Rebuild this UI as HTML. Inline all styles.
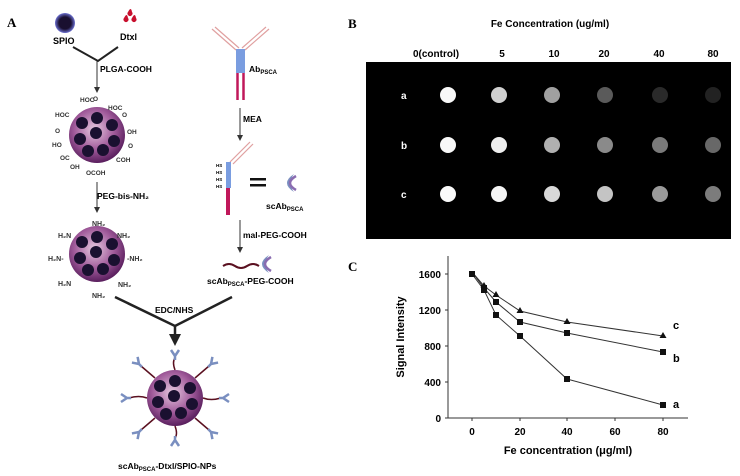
<!DOCTYPE html>
<html><head><meta charset="utf-8"><style>
html,body{margin:0;padding:0;background:#fff}
svg{display:block}
text{font-family:"Liberation Sans",sans-serif;font-weight:bold}
</style></head><body>
<svg width="740" height="476" viewBox="0 0 740 476" xmlns="http://www.w3.org/2000/svg">
<defs>
<radialGradient id="np" cx="45%" cy="40%" r="60%"><stop offset="0" stop-color="#e6c8e0"/><stop offset="0.6" stop-color="#a05a9a"/><stop offset="1" stop-color="#5a1f5e"/></radialGradient>
<radialGradient id="sp" cx="50%" cy="50%" r="50%"><stop offset="0.6" stop-color="#1a1030"/><stop offset="1" stop-color="#6b6fd0"/></radialGradient>
<marker id="ar" markerWidth="6" markerHeight="6" refX="3" refY="3" orient="auto"><path d="M0,0 L6,3 L0,6z" fill="#333"/></marker>
<g id="part">
<circle r="28" fill="url(#np)"/>
<g fill="#1a1030"><circle cx="-15" cy="-12" r="6"/><circle cx="0" cy="-17" r="6"/><circle cx="15" cy="-10" r="6"/><circle cx="-1" cy="-2" r="6"/><circle cx="-17" cy="4" r="6"/><circle cx="17" cy="6" r="6"/><circle cx="-9" cy="16" r="6"/><circle cx="6" cy="15" r="6"/></g>
</g>
<g id="scab"><path d="M4,-9 Q-10,0 4,9 Q-3,0 4,-9z" fill="#7a8fc0"/><path d="M6,-7 Q-6,0 6,7" stroke="#8a6cb0" stroke-width="2.5" fill="none"/></g>
<g id="tip"><path d="M0,0 l-4,-6 M0,0 l4,-6 M0,0 v4" stroke="#7a8fc0" stroke-width="2.5" fill="none"/></g>
</defs>

<!-- Panel A -->
<text x="7" y="27" font-size="13" style="font-family:'Liberation Serif',serif">A</text>
<circle cx="65" cy="23" r="10" fill="url(#sp)"/>
<text x="53" y="44" font-size="9">SPIO</text>
<g fill="#c8102e"><path d="M124,18 q3,-6 4,0 a2.5,2.5 0 1 1 -4,0z"/><path d="M128,12 q3,-6 4,0 a2.5,2.5 0 1 1 -4,0z"/><path d="M132,18 q3,-6 4,0 a2.5,2.5 0 1 1 -4,0z"/></g>
<text x="120" y="40" font-size="9">Dtxl</text>
<polyline points="73,47 98,61 118,47" fill="none" stroke="#222" stroke-width="2"/>
<line x1="97" y1="61" x2="97" y2="90" stroke="#333" stroke-width="1" marker-end="url(#ar)"/>
<text x="100" y="72" font-size="8.5">PLGA-COOH</text>
<use href="#part" x="97" y="135"/>
<g font-size="6.5" fill="#333" style="font-weight:normal">
<text x="80" y="102">HOC</text><text x="93" y="101">O</text><text x="55" y="117">HOC</text><text x="108" y="110">HOC</text><text x="122" y="117">O</text>
<text x="52" y="147">HO</text><text x="55" y="133">O</text><text x="127" y="134">OH</text><text x="128" y="148">O</text>
<text x="60" y="160">OC</text><text x="70" y="169">OH</text><text x="116" y="162">COH</text><text x="86" y="175">OCOH</text>
</g>
<line x1="97" y1="182" x2="97" y2="210" stroke="#333" marker-end="url(#ar)"/>
<text x="97" y="199" font-size="8.5">PEG-bis-NH₂</text>
<use href="#part" x="97" y="254"/>
<g font-size="7" style="font-weight:normal" fill="#333">
<text x="92" y="226">NH₂</text><text x="58" y="238">H₂N</text><text x="117" y="238">NH₂</text>
<text x="48" y="261">H₂N-</text><text x="127" y="261">-NH₂</text>
<text x="58" y="286">H₂N</text><text x="118" y="287">NH₂</text><text x="92" y="298">NH₂</text>
</g>
<polyline points="115,297 175,326 232,297" fill="none" stroke="#222" stroke-width="2.5"/>
<line x1="175" y1="326" x2="175" y2="336" stroke="#222" stroke-width="2.5"/>
<path d="M169,334 L181,334 L175,346z" fill="#222"/>
<text x="155" y="313" font-size="8.5">EDC/NHS</text>
<g stroke="#5a1020" stroke-width="1.5" fill="none">
<path d="M175,370 q-3,-8 0,-12"/><path d="M175,426 q3,8 0,12"/><path d="M147,398 q-8,-3 -18,0"/><path d="M203,398 q8,3 18,0"/>
<path d="M155,378 l-14,-12"/><path d="M195,378 l14,-12"/><path d="M155,418 l-14,12"/><path d="M195,418 l14,12"/>
</g>
<use href="#tip" x="175" y="356"/>
<use href="#tip" x="175" y="440" transform="rotate(180 175 440)"/>
<use href="#tip" x="127" y="398" transform="rotate(-90 127 398)"/>
<use href="#tip" x="223" y="398" transform="rotate(90 223 398)"/>
<use href="#tip" x="139" y="364" transform="rotate(-45 139 364)"/>
<use href="#tip" x="211" y="364" transform="rotate(45 211 364)"/>
<use href="#tip" x="139" y="432" transform="rotate(-135 139 432)"/>
<use href="#tip" x="211" y="432" transform="rotate(135 211 432)"/>
<use href="#part" x="175" y="398"/>
<text x="118" y="469" font-size="8.5">scAb<tspan font-size="6" dy="2">PSCA</tspan><tspan dy="-2">-Dtxl/SPIO-NPs</tspan></text>

<!-- antibody -->
<g stroke="#e0a0a0" stroke-width="1.2"><line x1="212" y1="29" x2="236" y2="50"/><line x1="215" y1="27" x2="239" y2="48"/><line x1="266" y1="27" x2="242" y2="48"/><line x1="269" y1="29" x2="245" y2="50"/></g>
<rect x="236" y="49" width="9" height="24" fill="#7a9de0"/>
<line x1="237.5" y1="73" x2="237.5" y2="100" stroke="#c0185a" stroke-width="2.5"/><line x1="243.5" y1="73" x2="243.5" y2="100" stroke="#c0185a" stroke-width="2.5"/>
<text x="249" y="72" font-size="8.5">Ab<tspan font-size="6" dy="2">PSCA</tspan></text>
<line x1="240" y1="108" x2="240" y2="138" stroke="#333" marker-end="url(#ar)"/>
<text x="243" y="122" font-size="8.5">MEA</text>
<g stroke="#e0a0a0" stroke-width="1.2"><line x1="230" y1="162" x2="250" y2="142"/><line x1="233" y1="164" x2="253" y2="144"/></g>
<rect x="226" y="162" width="5" height="26" fill="#7a9de0"/>
<rect x="226" y="188" width="4" height="27" fill="#c0185a"/>
<g font-size="4.5"><text x="216" y="167">HS</text><text x="216" y="174">HS</text><text x="216" y="181">HS</text><text x="216" y="188">HS</text></g>
<rect x="250" y="178" width="16" height="2.5" fill="#111"/><rect x="250" y="184" width="16" height="2.5" fill="#111"/>
<use href="#scab" x="290" y="183"/>
<text x="266" y="209" font-size="8.5">scAb<tspan font-size="6" dy="2">PSCA</tspan></text>
<line x1="240" y1="220" x2="240" y2="250" stroke="#333" marker-end="url(#ar)"/>
<text x="243" y="238" font-size="8.5">mal-PEG-COOH</text>
<path d="M223,266 q6,-4 12,0 t12,0 t12,0" stroke="#5a1020" stroke-width="2" fill="none"/>
<use href="#scab" x="265" y="264"/>
<text x="207" y="284" font-size="8.5">scAb<tspan font-size="6" dy="2">PSCA</tspan><tspan dy="-2">-PEG-COOH</tspan></text>

<!-- Panel B -->
<text x="348" y="28" font-size="13" style="font-family:'Liberation Serif',serif">B</text>
<text x="550" y="27" font-size="10" text-anchor="middle">Fe Concentration (ug/ml)</text>
<g font-size="10" text-anchor="middle"><text x="436" y="57">0(control)</text><text x="502" y="57">5</text><text x="554" y="57">10</text><text x="604" y="57">20</text><text x="659" y="57">40</text><text x="713" y="57">80</text></g>
<rect x="366" y="62" width="365" height="177" fill="#000"/>
<g font-size="10" fill="#fff"><text x="401" y="99">a</text><text x="401" y="149">b</text><text x="401" y="198">c</text></g>
<g>
<circle cx="448" cy="95" r="8" fill="#f8f8f8"/><circle cx="499" cy="95" r="8" fill="#d0d0d0"/><circle cx="552" cy="95" r="8" fill="#a0a0a0"/><circle cx="605" cy="95" r="8" fill="#5a5a5a"/><circle cx="660" cy="95" r="8" fill="#2a2a2a"/><circle cx="713" cy="95" r="8" fill="#222"/>
<circle cx="448" cy="145" r="8" fill="#f8f8f8"/><circle cx="499" cy="145" r="8" fill="#eeeeee"/><circle cx="552" cy="145" r="8" fill="#b0b0b0"/><circle cx="605" cy="145" r="8" fill="#8a8a8a"/><circle cx="660" cy="145" r="8" fill="#7a7a7a"/><circle cx="713" cy="145" r="8" fill="#686868"/>
<circle cx="448" cy="194" r="8" fill="#fafafa"/><circle cx="499" cy="194" r="8" fill="#f4f4f4"/><circle cx="552" cy="194" r="8" fill="#d8d8d8"/><circle cx="605" cy="194" r="8" fill="#c4c4c4"/><circle cx="660" cy="194" r="8" fill="#9a9a9a"/><circle cx="713" cy="194" r="8" fill="#7c7c7c"/>
</g>

<!-- Panel C -->
<text x="348" y="271" font-size="13" style="font-family:'Liberation Serif',serif">C</text>
<line x1="448" y1="256" x2="448" y2="418" stroke="#333"/>
<line x1="448" y1="418" x2="688" y2="418" stroke="#333"/>
<g stroke="#333">
<line x1="445" y1="418" x2="448" y2="418"/><line x1="445" y1="382" x2="448" y2="382"/><line x1="445" y1="346" x2="448" y2="346"/><line x1="445" y1="310" x2="448" y2="310"/><line x1="445" y1="274" x2="448" y2="274"/>
<line x1="472" y1="418" x2="472" y2="421"/><line x1="520" y1="418" x2="520" y2="421"/><line x1="567" y1="418" x2="567" y2="421"/><line x1="615" y1="418" x2="615" y2="421"/><line x1="663" y1="418" x2="663" y2="421"/>
</g>
<g font-size="10" text-anchor="end"><text x="441" y="422">0</text><text x="441" y="386">400</text><text x="441" y="350">800</text><text x="441" y="314">1200</text><text x="441" y="278">1600</text></g>
<g font-size="10" text-anchor="middle"><text x="472" y="435">0</text><text x="520" y="435">20</text><text x="567" y="435">40</text><text x="615" y="435">60</text><text x="663" y="435">80</text></g>
<text x="568" y="454" font-size="11" text-anchor="middle">Fe concentration (μg/ml)</text>
<text transform="translate(404,337) rotate(-90)" font-size="11" text-anchor="middle">Signal Intensity</text>
<g fill="none" stroke="#333" stroke-width="1">
<polyline points="472,274 484,290 496,315 520,336 567,379 663,405"/>
<polyline points="472,272 484,288 496,302 520,322 567,333 663,352"/>
<polyline points="472,272 484,286 496,295 520,311 567,322 663,336"/>
</g>
<g fill="#111">
<rect x="469" y="271" width="6" height="6"/><rect x="481" y="287" width="6" height="6"/><rect x="493" y="312" width="6" height="6"/><rect x="517" y="333" width="6" height="6"/><rect x="564" y="376" width="6" height="6"/><rect x="660" y="402" width="6" height="6"/>
<rect x="481" y="285" width="6" height="6"/><rect x="493" y="299" width="6" height="6"/><rect x="517" y="319" width="6" height="6"/><rect x="564" y="330" width="6" height="6"/><rect x="660" y="349" width="6" height="6"/>
<path d="M484,282 l3.5,6 h-7z M496,291 l3.5,6 h-7z M520,307 l3.5,6 h-7z M567,318 l3.5,6 h-7z M663,332 l3.5,6 h-7z"/>
</g>
<g font-size="11"><text x="673" y="329">c</text><text x="673" y="362">b</text><text x="673" y="408">a</text></g>
</svg>
</body></html>
